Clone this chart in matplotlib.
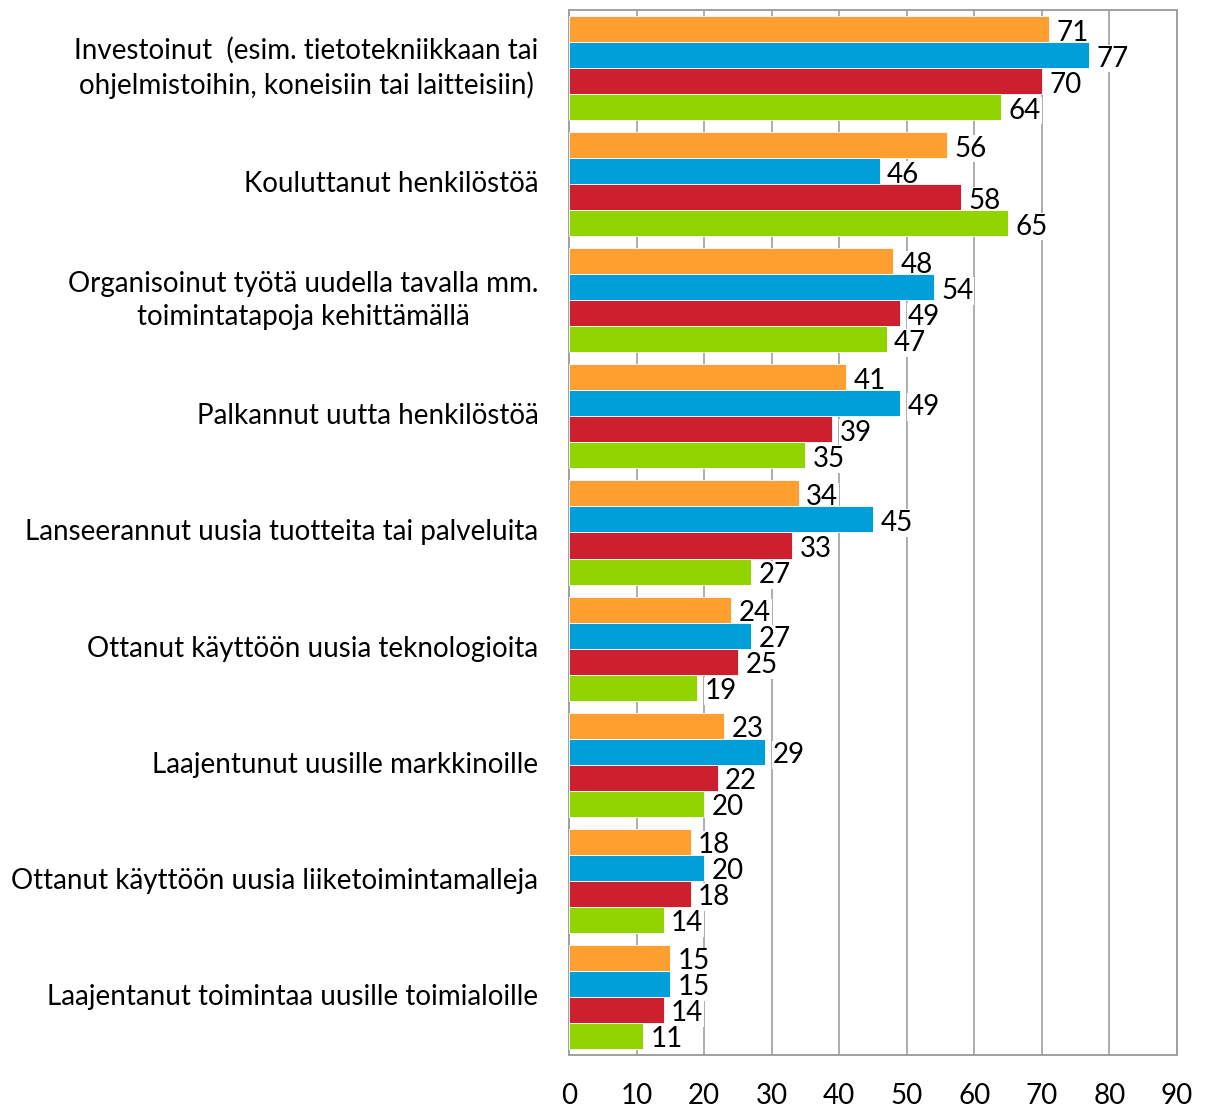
import matplotlib.pyplot as plt
import numpy as np

# ------------------------- Data -------------------------
categories = [
    "Investoinut  (esim. tietotekniikkaan tai\nohjelmistoihin, koneisiin tai laitteisiin)",
    "Kouluttanut henkilöstöä",
    "Organisoinut työtä uudella tavalla mm.\ntoimintatapoja kehittämällä",
    "Palkannut uutta henkilöstöä",
    "Lanseerannut uusia tuotteita tai palveluita",
    "Ottanut käyttöön uusia teknologioita",
    "Laajentunut uusille markkinoille",
    "Ottanut käyttöön uusia liiketoimintamalleja",
    "Laajentanut toimintaa uusille toimialoille",
]
series_1 = [71, 56, 48, 41, 34, 24, 23, 18, 15]
series_2 = [77, 46, 54, 49, 45, 27, 29, 20, 15]
series_3 = [70, 58, 49, 39, 33, 25, 22, 18, 14]
series_4 = [64, 65, 47, 35, 27, 19, 20, 14, 11]
x_ticks = list(range(0, 91, 10))

colors = ["#FE9F30", "#009FD9", "#CD202E", "#92D400"]

# ------------------------- Plot -------------------------
plt.rcParams['font.family'] = ['Lato', 'DejaVu Sans']
fs = 20

fig = plt.figure(figsize=(12.11, 11.08), dpi=100)
ax = fig.add_axes([569/1211, 1 - 1055/1108, (1177-569)/1211, (1055-10)/1108])

n_cat = len(categories)
bar_h = 0.224
y_base = np.arange(n_cat)
all_series = [series_1, series_2, series_3, series_4]

for k, vals in enumerate(all_series):
    ypos = y_base + (k - 1.5) * bar_h
    ax.barh(ypos, vals, height=bar_h, color=colors[k], edgecolor='white',
            linewidth=0.6, zorder=3)
    for y, v in zip(ypos, vals):
        # white box hides the gridlines behind the label, bars stay on top
        ax.text(v + 1.1, y + 0.03, str(v), va='center', ha='left', fontsize=fs,
                color='black', zorder=2,
                bbox=dict(facecolor='white', edgecolor='none', pad=0.5))

ax.set_ylim(n_cat - 0.5, -0.5)
ax.set_xlim(0, 90)
ax.set_xticks(x_ticks)
ax.set_xticklabels([str(t) for t in x_ticks], fontsize=fs)
ax.tick_params(axis='x', length=0, pad=20)
ax.set_yticks(y_base)
ax.set_yticklabels(categories, fontsize=fs, multialignment='center',
                   linespacing=1.35, va='center')
ax.tick_params(axis='y', length=0, pad=22)

ax.grid(axis='x', color='#A0A0A0', linewidth=1.2, zorder=0)
ax.set_axisbelow(True)
for s in ax.spines.values():
    s.set_color('#A0A0A0')
    s.set_linewidth(1.4)
    s.set_zorder(1)

fig.savefig("out.png", dpi=100)
